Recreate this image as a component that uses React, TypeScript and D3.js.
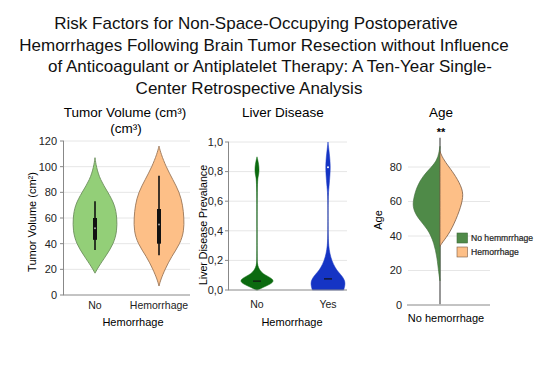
import React from "react";
import * as d3 from "d3";

// ---- data ----
const titleLines = [
  "Risk Factors for Non-Space-Occupying Postoperative",
  "Hemorrhages Following Brain Tumor Resection without Influence",
  "of Anticoagulant or Antiplatelet Therapy: A Ten-Year Single-",
  "Center Retrospective Analysis",
];
const titleCenters = [256, 264, 270, 249];

// panel 1: tumor volume, [value, relative density]
const volCategories = ["No", "Hemorrhage"];
const volNoDensity: [number, number][] = [
  [17, 0], [22, 0.14], [30, 0.42], [40, 0.75], [50, 0.88], [60, 0.88], [70, 0.8], [80, 0.52], [90, 0.2], [100, 0.05], [107, 0],
];
const volHemDensity: [number, number][] = [
  [7, 0], [12, 0.07], [20, 0.24], [30, 0.5], [40, 0.85], [50, 1.0], [60, 1.0], [70, 0.95], [80, 0.82], [90, 0.55], [100, 0.28], [110, 0.08], [116, 0],
];
// [whisker low, q1, median, q3, whisker high]
const volNoBox = [35, 43, 52, 60, 73];
const volHemBox = [31, 40, 55, 67, 93];
const volTicks = [0, 20, 40, 60, 80, 100, 120];

// panel 2: liver disease
const liverCategories = ["No", "Yes"];
const liverNoDensity: [number, number][] = [
  [0.0, 0.05], [0.02, 0.4], [0.04, 0.8], [0.06, 1.0], [0.08, 0.85], [0.1, 0.5], [0.12, 0.25], [0.15, 0.08], [0.18, 0.02], [0.22, 0],
  [0.74, 0], [0.77, 0.09], [0.81, 0.13], [0.85, 0.1], [0.88, 0.04], [0.9, 0],
];
const liverYesDensity: [number, number][] = [
  [0.0, 0.92], [0.03, 1.0], [0.06, 1.0], [0.09, 0.86], [0.12, 0.62], [0.15, 0.42], [0.2, 0.22], [0.25, 0.1], [0.3, 0.04], [0.36, 0.01], [0.45, 0],
  [0.62, 0], [0.7, 0.06], [0.78, 0.12], [0.84, 0.14], [0.9, 0.1], [0.95, 0.05], [1.0, 0],
];
const liverNoRange = [0.15, 0.88];
const liverYesRange = [0.3, 0.66];
const liverNoMedian = 0.06;
const liverYesMedian = 0.075;
const liverTicks = [0, 0.2, 0.4, 0.6, 0.8, 1.0];

// panel 3: age, split violin
const ageNoDensity: [number, number][] = [
  [14, 0], [19, 0.05], [27, 0.1], [36, 0.21], [44, 0.43], [50, 0.78], [56, 0.97], [61, 0.96], [69, 0.82], [75, 0.6], [80, 0.3], [84, 0.11], [88, 0.04], [92, 0],
];
const ageHemDensity: [number, number][] = [
  [34, 0], [36, 0.07], [42, 0.36], [52, 0.64], [61, 0.82], [67, 0.82], [75, 0.55], [80, 0.32], [85, 0.1], [89, 0],
];
const ageTicks = [0, 20, 40, 60, 80];
const ageLegend = ["No hemmrrhage", "Hemorrhage"];

const FONT = "'Liberation Sans', Arial, sans-serif";

type Dens = [number, number][];

function violinPath(dens: Dens, y: d3.ScaleLinear<number, number>, cx: number, half: number, side: "both" | "left" | "right") {
  const left = side !== "right";
  const right = side !== "left";
  const area = d3
    .area<[number, number]>()
    .y((d) => y(d[0]))
    .x0((d) => (left ? cx - d[1] * half : cx))
    .x1((d) => (right ? cx + d[1] * half : cx))
    .curve(d3.curveBasis);
  return area(dens) || "";
}

function Grid({ ticks, y, x0, x1, fmt, labelX, tick }: { ticks: number[]; y: d3.ScaleLinear<number, number>; x0: number; x1: number; fmt: (v: number) => string; labelX: number; tick: boolean }) {
  return (
    <g>
      {ticks.map((t) => (
        <g key={t}>
          {t !== 0 && <line x1={x0} x2={x1} y1={y(t)} y2={y(t)} stroke="#e6e6e6" strokeWidth={1} />}
          {tick && <line x1={x0 - 4} x2={x0} y1={y(t)} y2={y(t)} stroke="#888" strokeWidth={1} />}
          <text x={labelX} y={y(t)} dy="0.35em" textAnchor="end" fontSize={11} fill="#222">
            {fmt(t)}
          </text>
        </g>
      ))}
    </g>
  );
}

function VolumePanel() {
  const y = d3.scaleLinear().domain([0, 120]).range([295, 141]);
  const x = d3.scalePoint<string>().domain(volCategories).range([95, 159]);
  const fills = ["#93cf78", "#fdbf87"];
  const strokes = ["#6d8f5e", "#9a7658"];
  const dens = [volNoDensity, volHemDensity];
  const boxes = [volNoBox, volHemBox];
  return (
    <g>
      <text x={125} y={117} textAnchor="middle" fontSize={13.5}>Tumor Volume (cm³)</text>
      <text x={126} y={133} textAnchor="middle" fontSize={13.5}>(cm³)</text>
      <Grid ticks={volTicks} y={y} x0={64} x1={190} fmt={(v) => String(v)} labelX={57} tick={true} />
      {volCategories.map((c, i) => {
        const cx = x(c)!;
        const b = boxes[i];
        return (
          <g key={c}>
            <path d={violinPath(dens[i], y, cx, 25, "both")} fill={fills[i]} stroke={strokes[i]} strokeWidth={0.9} />
            <line x1={cx} x2={cx} y1={y(b[0])} y2={y(b[4])} stroke="#111" strokeWidth={1.6} />
            <line x1={cx} x2={cx} y1={y(b[1])} y2={y(b[3])} stroke="#111" strokeWidth={4} />
            <circle cx={cx} cy={y(b[2])} r={1} fill="#fff" opacity={0.6} />
            <text x={cx} y={305} dy="0.35em" textAnchor="middle" fontSize={10.5} fill="#222">{c}</text>
          </g>
        );
      })}
      <line x1={63.5} x2={63.5} y1={141} y2={295} stroke="#888" strokeWidth={1} />
      <line x1={63.5} x2={190} y1={295} y2={295} stroke="#888" strokeWidth={1} />
      <text x={133} y={326} textAnchor="middle" fontSize={11}>Hemorrhage</text>
      <text transform={`translate(36,222) rotate(-90)`} textAnchor="middle" fontSize={11}>Tumor Volume (cm²)</text>
    </g>
  );
}

function LiverPanel() {
  const y = d3.scaleLinear().domain([0, 1]).range([290, 142]);
  const x = d3.scalePoint<string>().domain(liverCategories).range([257, 328]);
  const fills = ["#0b6a0f", "#1534c4"];
  const dens = [liverNoDensity, liverYesDensity];
  const ranges = [liverNoRange, liverYesRange];
  const medians = [liverNoMedian, liverYesMedian];
  const fmt = (v: number) => d3.format(".1f")(v).replace(".", ",");
  return (
    <g>
      <text x={283} y={117} textAnchor="middle" fontSize={13.5}>Liver Disease</text>
      <Grid ticks={liverTicks} y={y} x0={229} x1={347} fmt={fmt} labelX={223} tick={true} />
      {liverCategories.map((c, i) => {
        const cx = x(c)!;
        return (
          <g key={c}>
            <line x1={cx} x2={cx} y1={y(ranges[i][0])} y2={y(ranges[i][1])} stroke="#9a9a9a" strokeWidth={1} />
            <path d={violinPath(dens[i], y, cx, 17, "both")} fill={fills[i]} stroke={fills[i]} strokeWidth={0.5} />
            <line x1={cx - 4} x2={cx + 4} y1={y(medians[i])} y2={y(medians[i])} stroke="#111" strokeWidth={1.2} />
            <text x={cx} y={304} dy="0.35em" textAnchor="middle" fontSize={10.5} fill="#222">{c}</text>
          </g>
        );
      })}
      <circle cx={x("Yes")!} cy={y(0.83)} r={1} fill="#fff" />
      <line x1={228.5} x2={228.5} y1={142} y2={290} stroke="#888" strokeWidth={1} />
      <line x1={228.5} x2={347} y1={290} y2={290} stroke="#888" strokeWidth={1} />
      <text x={292} y={326} textAnchor="middle" fontSize={11}>Hemorrhage</text>
      <text transform={`translate(207,225) rotate(-90)`} textAnchor="middle" fontSize={10.6}>Liver Disease Prevalance</text>
    </g>
  );
}

function AgePanel() {
  const y = d3.scaleLinear().domain([0, 80]).range([305, 167]);
  const cx = 440;
  const colors = ["#4f8a48", "#fdbf87"];
  return (
    <g>
      <text x={441} y={117} textAnchor="middle" fontSize={13.5}>Age</text>
      <text x={441} y={136} textAnchor="middle" fontSize={11} fontWeight="bold">**</text>
      <Grid ticks={ageTicks} y={y} x0={408} x1={490} fmt={(v) => String(v)} labelX={402} tick={false} />
      <line x1={cx} x2={cx} y1={y(0.5)} y2={y(97)} stroke="#6b6b6b" strokeWidth={1.4} />
      <path d={violinPath(ageNoDensity, y, cx, 28, "left")} fill={colors[0]} stroke="#3f6a3a" strokeWidth={0.6} />
      <path d={violinPath(ageHemDensity, y, cx, 28, "right")} fill={colors[1]} stroke="#7a5a44" strokeWidth={0.8} />
      <line x1={407} x2={490} y1={305} y2={305} stroke="#888" strokeWidth={1} />
      <text x={446} y={322} textAnchor="middle" fontSize={11}>No hemorrhage</text>
      <text transform={`translate(382,220) rotate(-90)`} textAnchor="middle" fontSize={11}>Age</text>
      {ageLegend.map((l, i) => (
        <g key={l} transform={`translate(457,${233 + i * 14})`}>
          <rect width={10.5} height={10} fill={colors[i]} stroke={i === 0 ? "#3f6a3a" : "#7a5a44"} strokeWidth={0.6} />
          <text x={14} y={5} dy="0.35em" fontSize={8.6} fill="#222" stroke="#222" strokeWidth={0.2}>{l}</text>
        </g>
      ))}
    </g>
  );
}

export default function App() {
  return (
    <svg width={550} height={367} style={{ position: "absolute", left: 0, top: 0, fontFamily: FONT, background: "#fff" }}>
      <rect width={550} height={367} fill="#fff" />
      {titleLines.map((t, i) => (
        <text key={i} x={titleCenters[i]} y={29 + i * 21.5} textAnchor="middle" fontSize={17} fill="#111">
          {t}
        </text>
      ))}
      <VolumePanel />
      <LiverPanel />
      <AgePanel />
    </svg>
  );
}
